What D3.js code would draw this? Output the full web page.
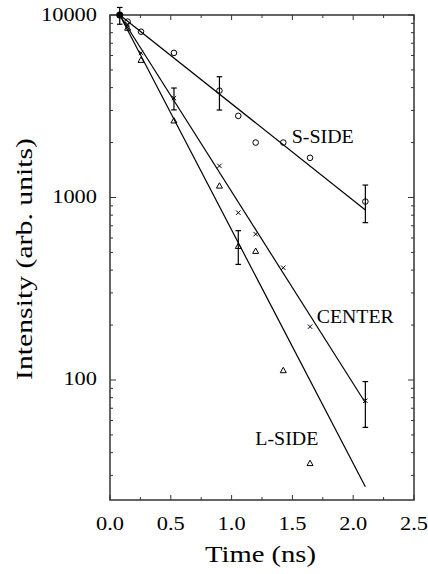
<!DOCTYPE html>
<html lang="en">
<head>
<meta charset="UTF-8">
<script src="https://d3js.org/d3.v7.min.js"></script>
<style>
  body { margin: 0; background: #fff; }
  text { font-family: "Liberation Serif", "Times New Roman", serif; fill: #000; }
  .frame { fill: none; stroke: #333; stroke-width: 1.5; }
  .tick-mark { stroke: #333; stroke-width: 1; }
  .fit { fill: none; stroke: #000; stroke-width: 1.2; }
  .err { stroke: #000; stroke-width: 1.2; }
  .mk { fill: none; stroke: #000; stroke-width: 1; }
</style>
</head>
<body>
<div id="chart"></div>
<script>
// data
const times = [0.08, 0.145, 0.255, 0.526, 0.9, 1.055, 1.198, 1.425, 1.645, 2.1];
const sSide  = [10000, 9200, 8100, 6200, 3850, 2800, 2000, 2000, 1650, 950];
const center = [10000, 8900, 6200, 3500, 1490, 826, 630, 412, 196, 77];
const lSide  = [10000, 8500, 5670, 2640, 1160, 542, 509, 113, 35, null];

// fitted lines: [t, intensity] at both ends
const sFit = [[0.08, 10000], [2.1, 855]];
const cFit = [[0.08, 10000], [2.1, 75]];
const lFit = [[0.08, 10000], [2.1, 26]];

// error bars: [t, low, high]
const errBars = [
  [0.08, 8900, 11000],
  [0.9, 3015, 4590],
  [2.1, 728, 1170],
  [0.526, 3020, 3980],
  [1.055, 430, 658],
  [2.1, 55, 98]
];

const xTicks = [0, 0.5, 1, 1.5, 2, 2.5];
const yTicks = [100, 1000, 10000];

const labels = [
  { text: "S-SIDE", t: 1.495, v: 2000, w: 62 },
  { text: "CENTER", t: 1.7, v: 205, w: 77 },
  { text: "L-SIDE", t: 1.195, v: 44, w: 63 }
];

const W = 428, H = 574;
const m = { left: 110, right: 14, top: 15, bottom: 74 };

const svg = d3.select("#chart").append("svg")
  .attr("width", W).attr("height", H);

const x = d3.scaleLinear().domain([0, 2.5]).range([m.left, W - m.right]);
const y = d3.scaleLog().domain([22, 10000]).range([H - m.bottom, m.top]);

const x0 = m.left, x1 = W - m.right, y0 = H - m.bottom, y1 = m.top;

// ticks (inward, on all four sides)
const xMinor = d3.range(0, 2.51, 0.25);
xMinor.forEach(t => {
  const major = Math.abs(t * 2 - Math.round(t * 2)) < 1e-6;
  const len = major ? 5 : 3;
  svg.append("line").attr("class", "tick-mark")
    .attr("x1", x(t)).attr("x2", x(t)).attr("y1", y0).attr("y2", y0 - len);
  svg.append("line").attr("class", "tick-mark")
    .attr("x1", x(t)).attr("x2", x(t)).attr("y1", y1).attr("y2", y1 + len);
});

const yAll = y.ticks().filter(v => v >= 22 && v <= 10000);
yAll.forEach(v => {
  const major = yTicks.includes(v);
  const len = major ? 6 : 3;
  svg.append("line").attr("class", "tick-mark")
    .attr("x1", x0).attr("x2", x0 + len).attr("y1", y(v)).attr("y2", y(v));
  svg.append("line").attr("class", "tick-mark")
    .attr("x1", x1).attr("x2", x1 - len).attr("y1", y(v)).attr("y2", y(v));
});

svg.append("rect").attr("class", "frame")
  .attr("x", x0).attr("y", y1).attr("width", x1 - x0).attr("height", y0 - y1);

// tick labels (the original type is a bit wide, so stretch horizontally)
const sx = 1.18;
svg.selectAll(".xl").data(xTicks).join("text")
  .attr("transform", d => `translate(${x(d)},${y0 + 30}) scale(${sx},1)`)
  .attr("text-anchor", "middle").attr("font-size", 19)
  .text(d => d.toFixed(1));

svg.selectAll(".yl").data(yTicks).join("text")
  .attr("transform", d => `translate(${x0 - 13},${y(d) + 5.5}) scale(${sx},1)`)
  .attr("text-anchor", "end").attr("font-size", 19)
  .text(d => d);

// axis titles
svg.append("text")
  .attr("x", 205).attr("y", 562)
  .attr("font-size", 23)
  .attr("textLength", 111).attr("lengthAdjust", "spacingAndGlyphs")
  .text("Time (ns)");

svg.append("text")
  .attr("transform", `translate(32,380) rotate(-90)`)
  .attr("font-size", 23)
  .attr("textLength", 242).attr("lengthAdjust", "spacingAndGlyphs")
  .text("Intensity (arb. units)");

// fitted lines
const line = d3.line().x(d => x(d[0])).y(d => y(d[1]));
[sFit, cFit, lFit].forEach(f => {
  svg.append("path").attr("class", "fit").attr("d", line(f));
});

// error bars
errBars.forEach(([t, lo, hi]) => {
  const g = svg.append("g");
  g.append("line").attr("class", "err")
    .attr("x1", x(t)).attr("x2", x(t)).attr("y1", y(lo)).attr("y2", y(hi));
  [lo, hi].forEach(v => g.append("line").attr("class", "err")
    .attr("x1", x(t) - 2.8).attr("x2", x(t) + 2.8).attr("y1", y(v)).attr("y2", y(v)));
});

// markers (first point is the common filled start)
const pts = (arr) => times.map((t, i) => [t, arr[i]]).filter((d, i) => i > 0 && d[1] != null);

svg.selectAll(".circ").data(pts(sSide)).join("circle")
  .attr("class", "mk").attr("cx", d => x(d[0])).attr("cy", d => y(d[1])).attr("r", 2.8);

svg.selectAll(".cross").data(pts(center)).join("path")
  .attr("class", "mk")
  .attr("d", d => {
    const cx = x(d[0]), cy = y(d[1]), s = 2.2;
    return `M${cx - s},${cy - s}L${cx + s},${cy + s}M${cx - s},${cy + s}L${cx + s},${cy - s}`;
  });

svg.selectAll(".tri").data(pts(lSide)).join("path")
  .attr("class", "mk")
  .attr("d", d => {
    const cx = x(d[0]), cy = y(d[1]), s = 3;
    return `M${cx},${cy - s}L${cx + s},${cy + s * 0.8}L${cx - s},${cy + s * 0.8}Z`;
  });

svg.append("circle")
  .attr("cx", x(times[0])).attr("cy", y(sSide[0])).attr("r", 3.5)
  .attr("fill", "#000");

// series labels
svg.selectAll(".lab").data(labels).join("text")
  .attr("x", d => x(d.t)).attr("y", d => y(d.v))
  .attr("font-size", 19)
  .attr("textLength", d => d.w).attr("lengthAdjust", "spacingAndGlyphs")
  .text(d => d.text);
</script>
</body>
</html>
